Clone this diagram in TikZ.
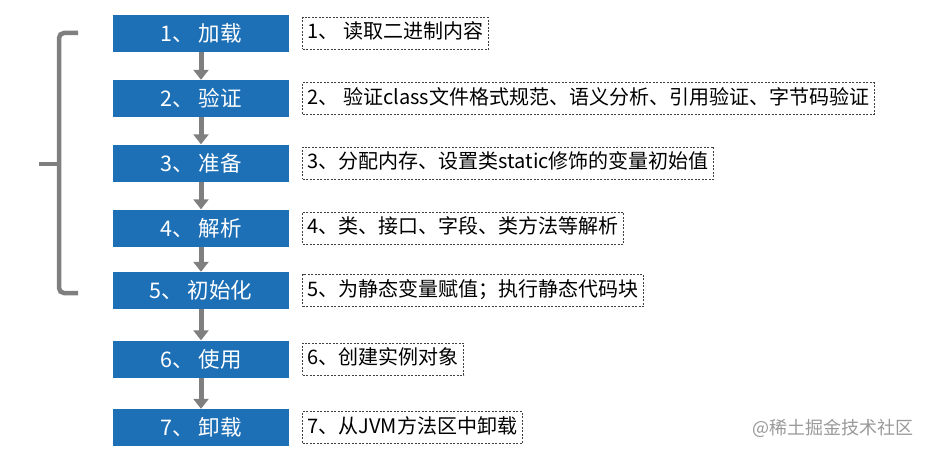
\documentclass[tikz,border=0pt]{standalone}
\usepackage{fontspec}
\setmainfont{Noto Sans CJK SC}
\usetikzlibrary{arrows.meta,positioning}
\definecolor{stageblue}{HTML}{1E70B6}
\definecolor{flowgray}{HTML}{7F7F7F}
\tikzset{
  stage/.style={fill=stageblue, text=white, minimum width=176pt, minimum height=37pt,
    inner sep=0pt, font=\fontsize{21.5}{21.5}\selectfont},
  note/.style={draw=black!75, dash pattern=on 2pt off 1.5pt, line width=.8pt,
    inner xsep=5pt, inner ysep=0pt, text height=15pt, text depth=4pt,
    minimum height=32pt, font=\fontsize{20}{20}\selectfont},
  flow/.style={draw=flowgray, line width=5pt, -{Triangle[length=10pt,width=15pt]}},
  brace/.style={draw=flowgray, line width=4.5pt, rounded corners=5pt},
}
\begin{document}
\begin{tikzpicture}[x=1pt, y=-1pt]
\useasboundingbox (0,0) rectangle (934,452);
\foreach \i/\y/\s/\d in {1/33.5/加载/1、 读取二进制内容,
    2/98.5/验证/2、 验证class文件格式规范、语义分析、引用验证、字节码验证,
    3/163/准备/3、分配内存、设置类static修饰的变量初始值,
    4/228/解析/4、类、接口、字段、类方法等解析,
    5/290.5/初始化/5、为静态变量赋值；执行静态代码块,
    6/359/使用/6、创建实例对象,
    7/427.5/卸载/7、从JVM方法区中卸载}
{
    \node[stage] (s\i) at (201,\y) {\i、 \s};
    \node[note, right=13pt of s\i] (d\i) {\d};
}
\foreach \i/\j in {1/2,2/3,3/4,4/5,5/6,6/7}
    \draw[flow] (s\i) -- (s\j);
% bracket over steps 1-5
\draw[brace] (78,33) -- (59,33) -- (59,293) -- (78,293);
\draw[flowgray, line width=4pt] (59,164) -- (39,164);
\node[text=black!40, anchor=east, font=\fontsize{18}{18}\selectfont] (mark) at (917,428) {@稀土掘金技术社区};
\end{tikzpicture}
\end{document}
